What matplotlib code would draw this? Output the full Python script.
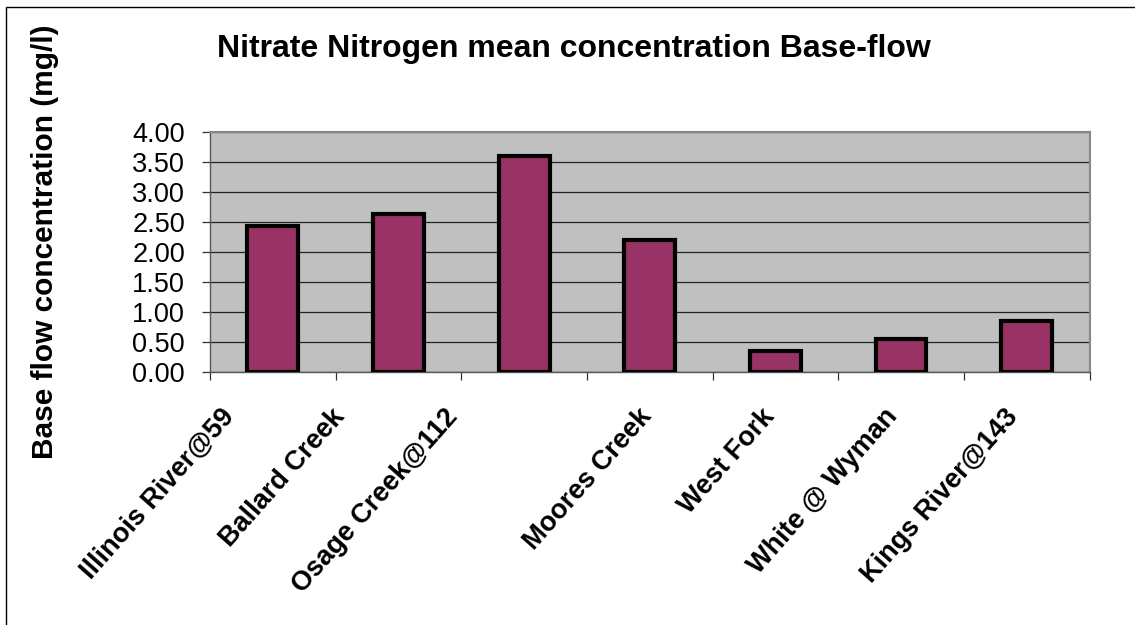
import matplotlib
matplotlib.use("Agg")
import matplotlib.pyplot as plt
import matplotlib.transforms as mtransforms
from matplotlib.patches import Rectangle

# ---- data ----
categories = ["Illinois River@59", "Ballard Creek", "Osage Creek@112", "Moores Creek",
              "West Fork", "White @ Wyman", "Kings River@143"]
values = [2.43, 2.62, 3.60, 2.20, 0.35, 0.55, 0.85]
yticks = [0.0, 0.5, 1.0, 1.5, 2.0, 2.5, 3.0, 3.5, 4.0]
title = "Nitrate Nitrogen mean concentration Base-flow"
ylabel = "Base flow concentration (mg/l)"

# ---- layout ----
W, H = 1135, 625
PX = 72 / 100  # points per pixel
label_dx = [-52, -68, -80, -12, -15, -18, -23]  # pixel shifts of the rotated labels

plt.rcParams['font.family'] = ['Liberation Sans', 'DejaVu Sans']
fig = plt.figure(figsize=(W / 100, H / 100), dpi=100)
fig.patch.set_facecolor('white')

left, right, top, bottom = 210, 1089.5, 131.5, 372
ax = fig.add_axes([left / W, (H - bottom) / H, (right - left) / W, (bottom - top) / H])
ax.set_facecolor('#C0C0C0')

x = list(range(len(categories)))
ax.bar(x, values, width=0.405, color='#993366', edgecolor='black', linewidth=3, zorder=3)

ax.set_xlim(-0.5, len(categories) - 0.5)
ax.set_ylim(0, 4.0)
ax.set_yticks(yticks)
ax.set_yticklabels([f"{v:.2f}" for v in yticks], fontsize=19.5)
ax.yaxis.grid(True, color='#222222', linewidth=0.9, zorder=1)
ax.set_axisbelow(True)

ax.set_xticks([i - 0.5 for i in range(len(categories) + 1)])
ax.set_xticklabels([])
ax.tick_params(axis='x', direction='out', length=8 * PX, width=0.9, color='#333333')
ax.tick_params(axis='y', direction='out', length=8 * PX, width=0.9, color='#333333', pad=17 * PX)

for s in ['left', 'bottom']:
    ax.spines[s].set_color('#555555')
    ax.spines[s].set_linewidth(1)
for s in ['top', 'right']:
    ax.spines[s].set_color('#888888')
    ax.spines[s].set_linewidth(1.5)

# rotated category labels
for i, (cat, dx) in enumerate(zip(categories, label_dx)):
    tr = ax.get_xaxis_transform() + mtransforms.ScaledTranslation(dx / 100, -32 / 100, fig.dpi_scale_trans)
    ax.text(i, 0, cat, transform=tr, rotation=48.5, rotation_mode='anchor',
            ha='right', va='top', fontsize=19.5, fontweight='bold')

fig.text(574 / W, 1 - 57 / H, title, ha='center', va='baseline', fontsize=23, fontweight='bold')
fig.text(45 / W, 1 - 242 / H, ylabel, ha='center', va='center', rotation=90,
         fontsize=21.5, fontweight='bold')

# outer chart frame
fig.add_artist(Rectangle((6 / W, -0.1), 1.2, 1.1 - 7 / H, transform=fig.transFigure,
                         fill=False, edgecolor='black', linewidth=1))

fig.savefig("out.png", dpi=100)
